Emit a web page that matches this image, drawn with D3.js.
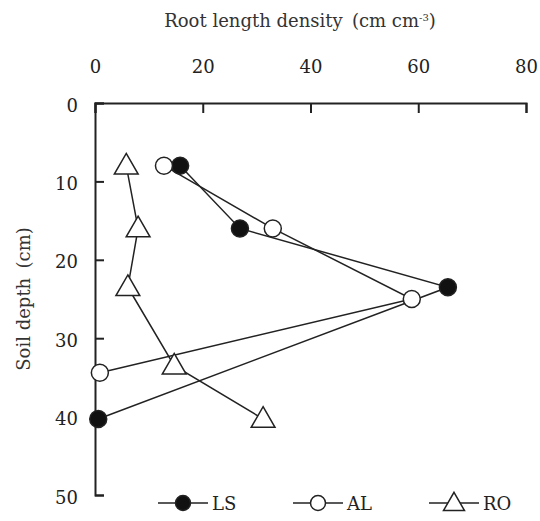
<!DOCTYPE html>
<html>
<head>
<meta charset="utf-8">
<script src="https://cdn.jsdelivr.net/npm/d3@7"></script>
<style>
  body { margin: 0; background: #fff; }
  svg { display: block; font-family: "DejaVu Serif", "Liberation Serif", serif; }
  svg text { font-family: "DejaVu Serif", "Liberation Serif", serif; }
</style>
</head>
<body>
<div id="vis"></div>
<script>
// root length density (cm cm-3) vs soil depth (cm)
const lsDensity = [15.8, 26.9, 65.5, 0.6];
const lsDepth = [8, 16, 23.5, 40.3];
const alDensity = [12.8, 33.0, 58.8, 0.9];
const alDepth = [8, 16, 25, 34.4];
const roDensity = [5.8, 8.0, 6.1, 14.7, 31.2];
const roDepth = [8, 16, 23.5, 33.5, 40.3];

const xTicks = [0, 20, 40, 60, 80];
const yTicks = [0, 10, 20, 30, 40, 50];
const seriesNames = ["LS", "AL", "RO"];

////////////////////////////////////////
////////////// Setup ///////////////////
////////////////////////////////////////

const width = 540, height = 521;
const margin = { top: 103, left: 95, right: 14, bottom: 26 };
const innerW = width - margin.left - margin.right;
const innerH = height - margin.top - margin.bottom;

const svg = d3.select("#vis").append("svg")
    .attr("width", width)
    .attr("height", height);

const g = svg.append("g")
    .attr("transform", `translate(${margin.left},${margin.top})`);

const x = d3.scaleLinear().domain([0, 80]).range([0, innerW]);
const y = d3.scaleLinear().domain([0, 50]).range([0, innerH]);

////////////////////////////////////////
////////////// Axes ////////////////////
////////////////////////////////////////

const xAxis = g.append("g")
    .call(d3.axisTop(x).tickValues(xTicks).tickSize(-10).tickPadding(30));
const yAxis = g.append("g")
    .call(d3.axisLeft(y).tickValues(yTicks).tickSize(-9).tickPadding(17));

[xAxis, yAxis].forEach(a => {
    a.attr("font-family", null).attr("font-size", 18);
    a.select(".domain").attr("stroke", "#222").attr("stroke-width", 2);
    a.selectAll(".tick line").attr("stroke", "#222").attr("stroke-width", 2);
    a.selectAll(".tick text").attr("fill", "#222");
});
yAxis.selectAll(".tick text").attr("dy", "0.45em");

// axis titles
const title = svg.append("text")
    .attr("x", 300)
    .attr("y", 27)
    .attr("text-anchor", "middle")
    .attr("fill", "#333")
    .attr("font-size", 18);
title.append("tspan").text("Root length density \u2009(cm cm");
title.append("tspan").attr("dy", -6).attr("font-size", 10).text("-3");
title.append("tspan").attr("dy", 6).text(")");

svg.append("text")
    .attr("transform", `translate(30,${margin.top + innerH / 2}) rotate(-90)`)
    .attr("text-anchor", "middle")
    .attr("fill", "#333")
    .attr("font-size", 18)
    .text("Soil depth \u2009(cm)");

////////////////////////////////////////
////////////// Series //////////////////
////////////////////////////////////////

const series = [
    { name: seriesNames[0], xs: lsDensity, ys: lsDepth, shape: "circle", fill: "#111" },
    { name: seriesNames[1], xs: alDensity, ys: alDepth, shape: "circle", fill: "#fff" },
    { name: seriesNames[2], xs: roDensity, ys: roDepth, shape: "triangle", fill: "#fff" }
];

const line = d3.line().x(d => x(d[0])).y(d => y(d[1]));

series.forEach(s => {
    const pts = s.xs.map((v, i) => [v, s.ys[i]]);
    g.append("path")
        .attr("d", line(pts))
        .attr("fill", "none")
        .attr("stroke", "#222")
        .attr("stroke-width", 1.5);
});

function drawMarker(sel, s, cx, cy, r) {
    if (s.shape === "circle") {
        sel.append("circle")
            .attr("cx", cx).attr("cy", cy).attr("r", r)
            .attr("fill", s.fill)
            .attr("stroke", "#222")
            .attr("stroke-width", 1.5);
    } else {
        sel.append("path")
            .attr("d", d3.symbol().type(d3.symbolTriangle).size(r * r * 3.4)())
            .attr("transform", `translate(${cx},${cy + 1.5})`)
            .attr("fill", s.fill)
            .attr("stroke", "#222")
            .attr("stroke-width", 1.5);
    }
}

series.forEach(s => {
    s.xs.forEach((v, i) => drawMarker(g, s, x(v), y(s.ys[i]), 8.5));
});

////////////////////////////////////////
////////////// Legend //////////////////
////////////////////////////////////////

const legendX = [183, 318, 454];
const legend = svg.append("g");
series.forEach((s, i) => {
    const cx = legendX[i], cy = 503;
    legend.append("line")
        .attr("x1", cx - 25).attr("x2", cx + 25)
        .attr("y1", cy).attr("y2", cy)
        .attr("stroke", "#222").attr("stroke-width", 1.5);
    drawMarker(legend, s, cx, cy, 7.5);
    legend.append("text")
        .attr("x", cx + 29)
        .attr("y", cy + 7)
        .attr("fill", "#222")
        .attr("font-size", 18)
        .text(s.name);
});
</script>
</body>
</html>
